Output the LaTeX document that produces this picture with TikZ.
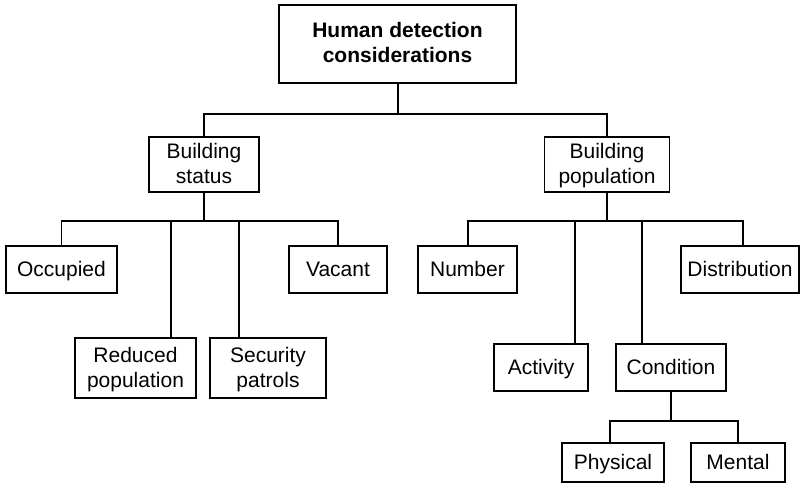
\documentclass[tikz,border=0pt]{standalone}
\usepackage{fontspec}
\setmainfont{Liberation Sans}
\begin{document}
\begin{tikzpicture}[x=1pt,y=-1pt,
  box/.style={draw,line width=1.3pt,inner sep=0pt,align=center,
    text height=17.5pt,text depth=4.5pt,
    font=\fontsize{21}{25}\selectfont},
  twoline/.style={text height=42.5pt},
  link/.style={line width=1.1pt},
  stem/.style={line width=2pt}]
\useasboundingbox (0,0) rectangle (801,484);

% boxes
\node[box,twoline,minimum width=237,minimum height=78,font=\fontsize{21}{25}\selectfont\bfseries]
  (top) at (397.5,44) {Human detection\\considerations};
\node[box,twoline,minimum width=110,minimum height=55] (status) at (204,164.5) {Building\\status};
\node[box,twoline,minimum width=125,minimum height=55] (pop) at (607,164.5) {Building\\population};

\node[box,minimum width=111,minimum height=47] (occ) at (61.5,269.5) {Occupied};
\node[box,minimum width=98,minimum height=47] (vac) at (338,269.5) {Vacant};
\node[box,twoline,minimum width=121,minimum height=60] (red) at (135.5,368) {Reduced\\population};
\node[box,twoline,minimum width=116,minimum height=60] (sec) at (268,368) {Security\\patrols};

\node[box,minimum width=99,minimum height=47] (num) at (467.5,269.5) {Number};
\node[box,minimum width=118,minimum height=47] (dist) at (740,269.5) {Distribution};
\node[box,minimum width=94,minimum height=47] (act) at (541,367.5) {Activity};
\node[box,minimum width=110,minimum height=47] (cond) at (671,367.5) {Condition};
\node[box,minimum width=102,minimum height=39] (phys) at (613,462.5) {Physical};
\node[box,minimum width=94,minimum height=39] (ment) at (738,462.5) {Mental};

% bus junctions and drop points
\coordinate (topbus) at (398,114);
\coordinate (stbus) at (204,221);
\coordinate (pobus) at (607,221);
\coordinate (cobus) at (671,421);
\coordinate (reddrop) at (171,221);
\coordinate (secdrop) at (239,221);
\coordinate (numdrop) at (468,221);
\coordinate (actdrop) at (575,221);
\coordinate (conddrop) at (642,221);
\coordinate (distdrop) at (743,221);
\coordinate (physdrop) at (610,421);

% top level
\draw[link] (top.south -| topbus) -- (topbus);
\draw[link] (status.north) |- (topbus) -| (pop.north);

% building status branch
\draw[stem] (status.south) -- (stbus);
\draw[link] (occ.north) |- (stbus) -| (vac.north);
\draw[link] (reddrop) -- (reddrop |- red.north);
\draw[link] (secdrop) -- (secdrop |- sec.north);

% building population branch
\draw[stem,line width=1.7pt] (pop.south) -- (pobus);
\draw[link] (numdrop |- num.north) -- (numdrop) -- (distdrop) -- (distdrop |- dist.north);
\draw[link] (actdrop) -- (actdrop |- act.north);
\draw[link] (conddrop) -- (conddrop |- cond.north);

% condition branch
\draw[stem] (cond.south) -- (cobus);
\draw[link] (physdrop |- phys.north) -- (physdrop) -| (ment.north);
\end{tikzpicture}
\end{document}
